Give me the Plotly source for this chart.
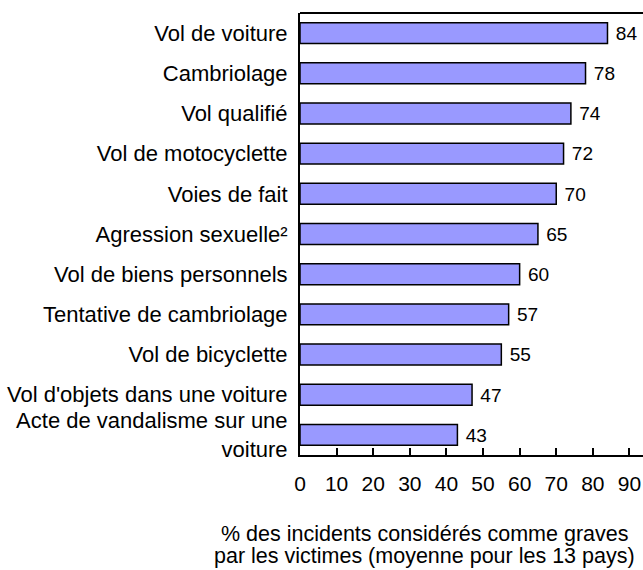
import plotly.graph_objects as go

categories = ["Vol de voiture", "Cambriolage", "Vol qualifié", "Vol de motocyclette",
              "Voies de fait", "Agression sexuelle²", "Vol de biens personnels",
              "Tentative de cambriolage", "Vol de bicyclette",
              "Vol d'objets dans une voiture", "Acte de vandalisme sur une<br>voiture"]
values = [84, 78, 74, 72, 70, 65, 60, 57, 55, 47, 43]
tick_vals = [0, 10, 20, 30, 40, 50, 60, 70, 80, 90]
title_lines = ["% des incidents considérés comme graves",
               "par les victimes (moyenne pour les 13 pays)"]

FONT = "Liberation Sans, Arial, sans-serif"

fig = go.Figure(go.Bar(
    x=values, y=categories, orientation="h",
    marker=dict(color="#9999FF", line=dict(color="black", width=1.5)),
    text=values, texttemplate=" %{text}", textposition="outside", cliponaxis=False,
    textfont=dict(family=FONT, size=21, color="black"),
))

# titre de l'axe x en deux annotations (interligne plus serré)
annots = []
for i, line in enumerate(title_lines):
    annots.append(dict(text=line, xref="paper", yref="paper", x=0.363, y=-0.178 - 0.051 * i,
                       xanchor="center", yanchor="middle", showarrow=False,
                       font=dict(family=FONT, size=21.5, color="black")))

fig.update_layout(
    width=643, height=570,
    margin=dict(l=300, r=0, t=13, b=115),
    plot_bgcolor="white", paper_bgcolor="white",
    font=dict(family=FONT, size=22, color="black"),
    bargap=0.48,
    showlegend=False,
    shapes=[dict(type="line", xref="paper", yref="paper", x0=0, x1=1, y0=1, y1=1,
                 line=dict(color="black", width=2))],
    annotations=annots,
)
fig.update_xaxes(range=[0, 93.7], tickvals=tick_vals, ticks="inside", ticklen=7,
                 tickwidth=2, tickcolor="black", showline=True, linecolor="black",
                 linewidth=2, showgrid=False, zeroline=False, ticklabelstandoff=9,
                 tickfont=dict(size=21))
fig.update_yaxes(autorange="reversed", showline=True, linecolor="black", linewidth=2,
                 showgrid=False, ticks="", ticklabelstandoff=6)

# pas de marge du body ni de barres de défilement
fig.write_html("out.html", config={"displayModeBar": False},
               post_script="document.body.style.margin='0';document.body.style.overflow='hidden';")
